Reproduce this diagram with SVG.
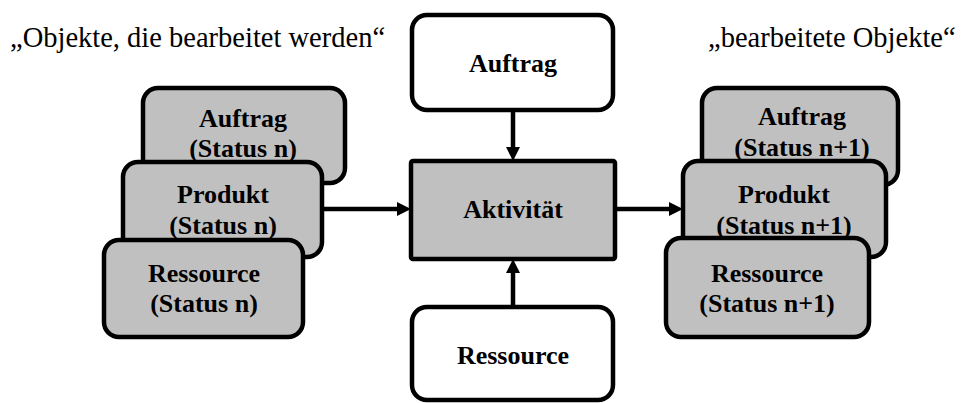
<svg xmlns="http://www.w3.org/2000/svg" width="963" height="403" viewBox="0 0 963 403">
<rect width="963" height="403" fill="#fff"/>
<text x="10" y="47" style="font-family:'Liberation Serif',serif;font-size:28.5px">„Objekte, die bearbeitet werden“</text>
<text x="708" y="47" style="font-family:'Liberation Serif',serif;font-size:28.5px">„bearbeitete Objekte“</text>
<g id="connectors">
<line x1="513" y1="110" x2="513" y2="150" stroke="#000" stroke-width="4.5"/>
<polygon points="506,147 520,147 513,161" fill="#000"/>
<line x1="513" y1="307" x2="513" y2="270" stroke="#000" stroke-width="4.5"/>
<polygon points="506,273 520,273 513,259" fill="#000"/>
<line x1="322" y1="209" x2="400" y2="209" stroke="#000" stroke-width="4.5"/>
<polygon points="397,202 397,216 411,209" fill="#000"/>
<line x1="615" y1="209" x2="672" y2="209" stroke="#000" stroke-width="4.5"/>
<polygon points="669,202 669,216 683,209" fill="#000"/>
</g>
<g id="l-auftrag"><rect x="143" y="88" width="202" height="95" rx="15" fill="#c0c0c0" stroke="#000" stroke-width="4.5"/><text x="243" y="127" text-anchor="middle" style="font-family:'Liberation Serif',serif;font-weight:bold;font-size:26px">Auftrag</text><text x="243" y="157" text-anchor="middle" style="font-family:'Liberation Serif',serif;font-weight:bold;font-size:26px">(Status n)</text></g>
<g id="l-produkt"><rect x="123" y="162" width="199" height="95" rx="15" fill="#c0c0c0" stroke="#000" stroke-width="4.5"/><text x="223" y="203" text-anchor="middle" style="font-family:'Liberation Serif',serif;font-weight:bold;font-size:26px">Produkt</text><text x="223" y="234" text-anchor="middle" style="font-family:'Liberation Serif',serif;font-weight:bold;font-size:26px">(Status n)</text></g>
<g id="l-ressource"><rect x="104" y="240" width="199" height="97" rx="15" fill="#c0c0c0" stroke="#000" stroke-width="4.5"/><text x="204" y="282" text-anchor="middle" style="font-family:'Liberation Serif',serif;font-weight:bold;font-size:26px">Ressource</text><text x="204" y="312" text-anchor="middle" style="font-family:'Liberation Serif',serif;font-weight:bold;font-size:26px">(Status n)</text></g>
<g id="c-auftrag"><rect x="412" y="15" width="201" height="95" rx="15" fill="#fff" stroke="#000" stroke-width="4.5"/><text x="513" y="72" text-anchor="middle" style="font-family:'Liberation Serif',serif;font-weight:bold;font-size:26px">Auftrag</text></g>
<g id="c-aktivitaet"><rect x="411" y="161" width="204" height="98" rx="2" fill="#c0c0c0" stroke="#000" stroke-width="4.5"/><text x="513" y="218" text-anchor="middle" style="font-family:'Liberation Serif',serif;font-weight:bold;font-size:26px">Aktivität</text></g>
<g id="c-ressource"><rect x="412" y="307" width="201" height="93" rx="15" fill="#fff" stroke="#000" stroke-width="4.5"/><text x="513" y="364" text-anchor="middle" style="font-family:'Liberation Serif',serif;font-weight:bold;font-size:26px">Ressource</text></g>
<g id="r-auftrag"><rect x="702" y="88" width="196" height="97" rx="15" fill="#c0c0c0" stroke="#000" stroke-width="4.5"/><text x="802" y="125" text-anchor="middle" style="font-family:'Liberation Serif',serif;font-weight:bold;font-size:26px">Auftrag</text><text x="802" y="156" text-anchor="middle" style="font-family:'Liberation Serif',serif;font-weight:bold;font-size:26px">(Status n+1)</text></g>
<g id="r-produkt"><rect x="683" y="161" width="203" height="96" rx="15" fill="#c0c0c0" stroke="#000" stroke-width="4.5"/><text x="784" y="203" text-anchor="middle" style="font-family:'Liberation Serif',serif;font-weight:bold;font-size:26px">Produkt</text><text x="784" y="234" text-anchor="middle" style="font-family:'Liberation Serif',serif;font-weight:bold;font-size:26px">(Status n+1)</text></g>
<g id="r-ressource"><rect x="666" y="238" width="203" height="99" rx="15" fill="#c0c0c0" stroke="#000" stroke-width="4.5"/><text x="767" y="282" text-anchor="middle" style="font-family:'Liberation Serif',serif;font-weight:bold;font-size:26px">Ressource</text><text x="767" y="312" text-anchor="middle" style="font-family:'Liberation Serif',serif;font-weight:bold;font-size:26px">(Status n+1)</text></g>
</svg>
